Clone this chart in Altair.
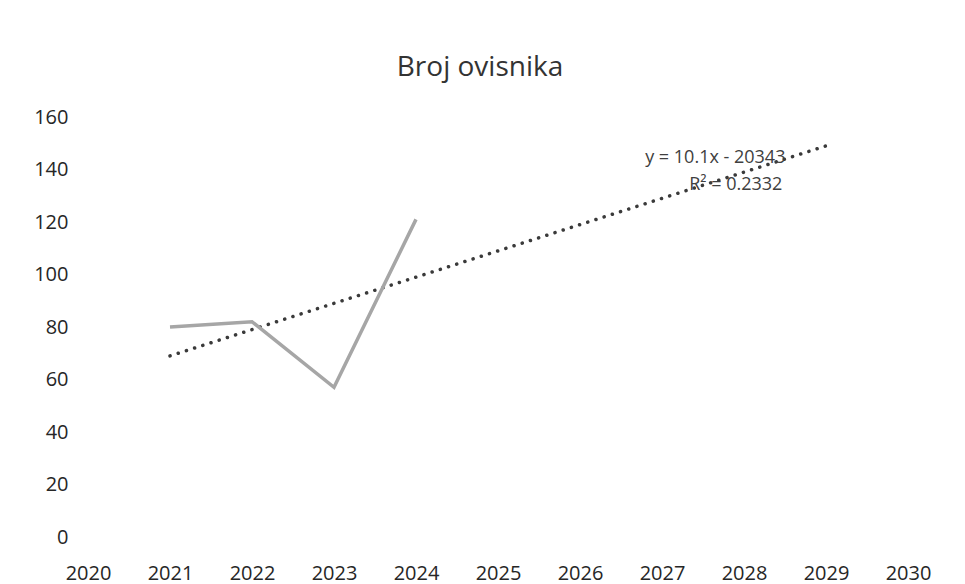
import altair as alt
import pandas as pd

years = [2021, 2022, 2023, 2024]
counts = [80, 82, 57, 121]

trend_years = [2021, 2029]
trend_values = [69, 149]

eq_text = ["y = 10.1x - 20343", "R² = 0.2332"]
eq_x = [2027.65, 2027.9]
eq_y = [144.5, 134]

x_ticks = list(range(2020, 2031))
y_ticks = list(range(0, 161, 20))

df = pd.DataFrame({"year": years, "count": counts})
tdf = pd.DataFrame({"year": trend_years, "value": trend_values})
edf = pd.DataFrame({"x": eq_x, "y": eq_y, "t": eq_text})

FONT = "Open Sans"

xscale = alt.Scale(domain=[2020, 2030], nice=False)
yscale = alt.Scale(domain=[0, 160], nice=False)

xaxis = alt.Axis(values=x_ticks, format="d", title=None, grid=False, domain=False,
                 ticks=False, labelFontSize=20, labelColor="#262626", labelFont=FONT,
                 labelPadding=26, labelFlush=False)
yaxis = alt.Axis(values=y_ticks, title=None, grid=False, domain=False, ticks=False,
                 labelFontSize=20, labelColor="#262626", labelFont=FONT, labelPadding=20)

line = alt.Chart(df).mark_line(color="#a6a6a6", strokeWidth=3.5).encode(
    x=alt.X("year:Q", scale=xscale, axis=xaxis),
    y=alt.Y("count:Q", scale=yscale, axis=yaxis),
)

trend = alt.Chart(tdf).mark_line(color="#3a3a3a", strokeWidth=3.5,
                                  strokeDash=[0.1, 8.5], strokeCap="round").encode(
    x=alt.X("year:Q", scale=xscale),
    y=alt.Y("value:Q", scale=yscale),
)

eq = alt.Chart(edf).mark_text(fontSize=18, font=FONT, color="#404040").encode(
    x=alt.X("x:Q", scale=xscale),
    y=alt.Y("y:Q", scale=yscale),
    text="t:N",
)

chart = alt.layer(trend, line, eq).properties(
    width=820, height=420,
    background="white",
    title=alt.TitleParams("Broj ovisnika", fontSize=28, font=FONT, fontWeight="normal",
                          color="#333333", anchor="middle", offset=25, dx=-18),
    autosize=alt.AutoSizeParams(type="none"),
    padding={"left": 80, "top": 109, "right": 40, "bottom": 60},
).configure_view(stroke="transparent", strokeWidth=0)

chart.save("out.html", embed_options={"renderer": "svg", "actions": False})
